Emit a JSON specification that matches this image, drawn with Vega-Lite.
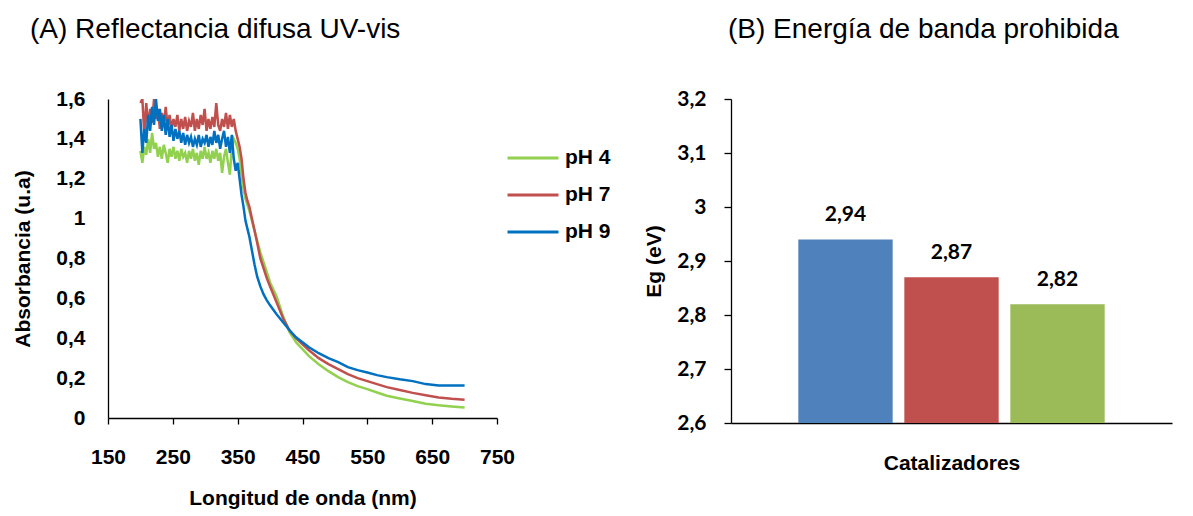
{
  "$schema": "https://vega.github.io/schema/vega-lite/v6.json",
  "padding": {"left": 12, "top": 16, "right": 5, "bottom": 5},
  "spacing": 32,
  "resolve": {"scale": {"color": "independent"}, "legend": {"color": "independent"}},
  "config": {
    "locale": {"number": {"decimal": ",", "thousands": ".", "grouping": [3], "currency": ["", " €"]}},
    "view": {"stroke": null},
    "font": "Liberation Sans",
    "axis": {"grid": false, "domainColor": "#000000", "tickColor": "#000000", "labelColor": "#000000", "titleColor": "#000000", "domainWidth": 1.3, "tickWidth": 1.3}
  },
  "hconcat": [
    {
      "width": 389,
      "height": 319,
      "title": {
        "text": "(A) Reflectancia difusa UV-vis",
        "anchor": "start",
        "frame": "group",
        "dx": -78,
        "font": "Liberation Sans",
        "fontSize": 28,
        "fontWeight": "normal",
        "color": "#000000",
        "offset": 44
      },
      "data": {
        "values": [
          {"nm": 200, "pH 4": 1.34, "pH 7": 1.58, "pH 9": 1.50},
          {"nm": 203, "pH 4": 1.28, "pH 7": 1.60, "pH 9": 1.33},
          {"nm": 206, "pH 4": 1.36, "pH 7": 1.42, "pH 9": 1.45},
          {"nm": 209, "pH 4": 1.32, "pH 7": 1.58, "pH 9": 1.38},
          {"nm": 212, "pH 4": 1.40, "pH 7": 1.46, "pH 9": 1.52},
          {"nm": 215, "pH 4": 1.33, "pH 7": 1.55, "pH 9": 1.44},
          {"nm": 218, "pH 4": 1.43, "pH 7": 1.48, "pH 9": 1.56},
          {"nm": 221, "pH 4": 1.35, "pH 7": 1.60, "pH 9": 1.47},
          {"nm": 224, "pH 4": 1.38, "pH 7": 1.50, "pH 9": 1.60},
          {"nm": 227, "pH 4": 1.31, "pH 7": 1.55, "pH 9": 1.49},
          {"nm": 230, "pH 4": 1.36, "pH 7": 1.45, "pH 9": 1.55},
          {"nm": 233, "pH 4": 1.30, "pH 7": 1.53, "pH 9": 1.44},
          {"nm": 236, "pH 4": 1.37, "pH 7": 1.47, "pH 9": 1.52},
          {"nm": 239, "pH 4": 1.33, "pH 7": 1.56, "pH 9": 1.42},
          {"nm": 242, "pH 4": 1.28, "pH 7": 1.46, "pH 9": 1.50},
          {"nm": 245, "pH 4": 1.35, "pH 7": 1.52, "pH 9": 1.41},
          {"nm": 248, "pH 4": 1.31, "pH 7": 1.45, "pH 9": 1.47},
          {"nm": 251, "pH 4": 1.36, "pH 7": 1.50, "pH 9": 1.39},
          {"nm": 254, "pH 4": 1.30, "pH 7": 1.46, "pH 9": 1.45},
          {"nm": 257, "pH 4": 1.34, "pH 7": 1.52, "pH 9": 1.40},
          {"nm": 260, "pH 4": 1.29, "pH 7": 1.44, "pH 9": 1.44},
          {"nm": 263, "pH 4": 1.35, "pH 7": 1.50, "pH 9": 1.38},
          {"nm": 266, "pH 4": 1.31, "pH 7": 1.45, "pH 9": 1.43},
          {"nm": 269, "pH 4": 1.33, "pH 7": 1.51, "pH 9": 1.37},
          {"nm": 272, "pH 4": 1.28, "pH 7": 1.44, "pH 9": 1.42},
          {"nm": 275, "pH 4": 1.34, "pH 7": 1.49, "pH 9": 1.38},
          {"nm": 278, "pH 4": 1.30, "pH 7": 1.46, "pH 9": 1.41},
          {"nm": 281, "pH 4": 1.35, "pH 7": 1.53, "pH 9": 1.36},
          {"nm": 284, "pH 4": 1.29, "pH 7": 1.44, "pH 9": 1.40},
          {"nm": 287, "pH 4": 1.33, "pH 7": 1.50, "pH 9": 1.37},
          {"nm": 290, "pH 4": 1.27, "pH 7": 1.45, "pH 9": 1.42},
          {"nm": 293, "pH 4": 1.34, "pH 7": 1.52, "pH 9": 1.36},
          {"nm": 296, "pH 4": 1.30, "pH 7": 1.47, "pH 9": 1.40},
          {"nm": 299, "pH 4": 1.36, "pH 7": 1.55, "pH 9": 1.38},
          {"nm": 302, "pH 4": 1.30, "pH 7": 1.44, "pH 9": 1.42},
          {"nm": 305, "pH 4": 1.33, "pH 7": 1.50, "pH 9": 1.36},
          {"nm": 308, "pH 4": 1.28, "pH 7": 1.45, "pH 9": 1.41},
          {"nm": 311, "pH 4": 1.34, "pH 7": 1.51, "pH 9": 1.37},
          {"nm": 314, "pH 4": 1.30, "pH 7": 1.46, "pH 9": 1.44},
          {"nm": 317, "pH 4": 1.35, "pH 7": 1.58, "pH 9": 1.38},
          {"nm": 320, "pH 4": 1.29, "pH 7": 1.47, "pH 9": 1.42},
          {"nm": 323, "pH 4": 1.33, "pH 7": 1.44, "pH 9": 1.35},
          {"nm": 326, "pH 4": 1.23, "pH 7": 1.50, "pH 9": 1.40},
          {"nm": 329, "pH 4": 1.31, "pH 7": 1.46, "pH 9": 1.44},
          {"nm": 332, "pH 4": 1.35, "pH 7": 1.53, "pH 9": 1.36},
          {"nm": 335, "pH 4": 1.28, "pH 7": 1.45, "pH 9": 1.41},
          {"nm": 338, "pH 4": 1.22, "pH 7": 1.52, "pH 9": 1.33},
          {"nm": 341, "pH 4": 1.36, "pH 7": 1.46, "pH 9": 1.42},
          {"nm": 344, "pH 4": 1.40, "pH 7": 1.50, "pH 9": 1.30},
          {"nm": 347, "pH 4": 1.38, "pH 7": 1.44, "pH 9": 1.24},
          {"nm": 350, "pH 4": 1.35, "pH 7": 1.40, "pH 9": 1.28},
          {"nm": 353, "pH 4": 1.30, "pH 7": 1.36, "pH 9": 1.20},
          {"nm": 356, "pH 4": 1.22, "pH 7": 1.30, "pH 9": 1.12},
          {"nm": 359, "pH 4": 1.15, "pH 7": 1.20, "pH 9": 1.06},
          {"nm": 362, "pH 4": 1.10, "pH 7": 1.13, "pH 9": 0.99},
          {"nm": 365, "pH 4": 1.07, "pH 7": 1.09, "pH 9": 0.95},
          {"nm": 368, "pH 4": 1.04, "pH 7": 1.06, "pH 9": 0.91},
          {"nm": 372, "pH 4": 0.99, "pH 7": 1.00, "pH 9": 0.84},
          {"nm": 376, "pH 4": 0.94, "pH 7": 0.94, "pH 9": 0.77},
          {"nm": 380, "pH 4": 0.89, "pH 7": 0.88, "pH 9": 0.71},
          {"nm": 385, "pH 4": 0.83, "pH 7": 0.80, "pH 9": 0.66},
          {"nm": 390, "pH 4": 0.78, "pH 7": 0.75, "pH 9": 0.62},
          {"nm": 395, "pH 4": 0.73, "pH 7": 0.70, "pH 9": 0.59},
          {"nm": 400, "pH 4": 0.68, "pH 7": 0.66, "pH 9": 0.565},
          {"nm": 410, "pH 4": 0.61, "pH 7": 0.58, "pH 9": 0.52},
          {"nm": 420, "pH 4": 0.51, "pH 7": 0.50, "pH 9": 0.48},
          {"nm": 430, "pH 4": 0.43, "pH 7": 0.44, "pH 9": 0.44},
          {"nm": 440, "pH 4": 0.38, "pH 7": 0.40, "pH 9": 0.405},
          {"nm": 450, "pH 4": 0.345, "pH 7": 0.37, "pH 9": 0.38},
          {"nm": 460, "pH 4": 0.31, "pH 7": 0.34, "pH 9": 0.355},
          {"nm": 475, "pH 4": 0.27, "pH 7": 0.30, "pH 9": 0.325},
          {"nm": 490, "pH 4": 0.235, "pH 7": 0.27, "pH 9": 0.30},
          {"nm": 505, "pH 4": 0.205, "pH 7": 0.245, "pH 9": 0.28},
          {"nm": 520, "pH 4": 0.18, "pH 7": 0.22, "pH 9": 0.255},
          {"nm": 535, "pH 4": 0.16, "pH 7": 0.20, "pH 9": 0.24},
          {"nm": 550, "pH 4": 0.145, "pH 7": 0.185, "pH 9": 0.228},
          {"nm": 565, "pH 4": 0.128, "pH 7": 0.17, "pH 9": 0.215},
          {"nm": 580, "pH 4": 0.112, "pH 7": 0.155, "pH 9": 0.205},
          {"nm": 600, "pH 4": 0.098, "pH 7": 0.14, "pH 9": 0.194},
          {"nm": 620, "pH 4": 0.085, "pH 7": 0.126, "pH 9": 0.185},
          {"nm": 640, "pH 4": 0.072, "pH 7": 0.114, "pH 9": 0.17},
          {"nm": 660, "pH 4": 0.064, "pH 7": 0.103, "pH 9": 0.163},
          {"nm": 680, "pH 4": 0.058, "pH 7": 0.096, "pH 9": 0.163},
          {"nm": 700, "pH 4": 0.053, "pH 7": 0.091, "pH 9": 0.163}
        ]
      },
      "transform": [{"fold": ["pH 4", "pH 7", "pH 9"], "as": ["serie", "abs"]}],
      "mark": {"type": "line", "strokeWidth": 2.5, "clip": true},
      "encoding": {
        "x": {
          "field": "nm",
          "type": "quantitative",
          "scale": {"domain": [150, 750], "nice": false},
          "axis": {
            "values": [150, 250, 350, 450, 550, 650, 750],
            "format": "d",
            "title": "Longitud de onda (nm)",
            "labelFont": "Liberation Sans",
            "labelFontSize": 21,
            "labelFontWeight": "bold",
            "titleFont": "Liberation Sans",
            "titleFontSize": 21,
            "titleFontWeight": "bold",
            "tickSize": 6,
            "labelPadding": 22,
            "titlePadding": 20,
            "labelFlush": false
          }
        },
        "y": {
          "field": "abs",
          "type": "quantitative",
          "scale": {"domain": [0, 1.6], "nice": false},
          "axis": {
            "values": [0, 0.2, 0.4, 0.6, 0.8, 1, 1.2, 1.4, 1.6],
            "format": ".1~f",
            "ticks": false,
            "labelPadding": 23,
            "title": "Absorbancia (u.a)",
            "labelFont": "Liberation Sans",
            "labelFontSize": 21,
            "labelFontWeight": "bold",
            "titleFont": "Liberation Sans",
            "titleFontSize": 21,
            "titleFontWeight": "bold",
            "titlePadding": 22
          }
        },
        "color": {
          "field": "serie",
          "type": "nominal",
          "scale": {"domain": ["pH 4", "pH 7", "pH 9"], "range": ["#92D050", "#C0504D", "#0070C0"]},
          "legend": {
            "title": null,
            "orient": "none",
            "legendX": 398,
            "legendY": 32,
            "symbolType": "stroke",
            "symbolSize": 2600,
            "symbolStrokeWidth": 3,
            "labelFont": "Liberation Sans",
            "labelFontSize": 21,
            "labelFontWeight": "bold",
            "labelColor": "#000000",
            "labelOffset": 5,
            "rowPadding": -8
          }
        }
      }
    },
    {
      "width": 441,
      "height": 324,
      "title": {
        "text": "(B) Energía de banda prohibida",
        "anchor": "start",
        "frame": "group",
        "dx": -3,
        "font": "Liberation Sans",
        "fontSize": 28,
        "fontWeight": "normal",
        "color": "#000000",
        "offset": 44
      },
      "data": {
        "values": [
          {"catalizador": "pH 4", "Eg": 2.94},
          {"catalizador": "pH 7", "Eg": 2.87},
          {"catalizador": "pH 9", "Eg": 2.82}
        ]
      },
      "encoding": {
        "x": {
          "field": "catalizador",
          "type": "nominal",
          "sort": null,
          "scale": {"paddingInner": 0.11, "paddingOuter": 0.635},
          "axis": {
            "labels": false,
            "ticks": false,
            "title": "Catalizadores",
            "titleFont": "Liberation Sans",
            "titleFontSize": 21,
            "titleFontWeight": "bold",
            "titlePadding": 29
          }
        },
        "y": {
          "field": "Eg",
          "type": "quantitative",
          "scale": {"domain": [2.6, 3.2], "nice": false, "zero": false},
          "axis": {
            "values": [2.6, 2.7, 2.8, 2.9, 3, 3.1, 3.2],
            "format": ".1~f",
            "tickSize": 7,
            "labelPadding": 18,
            "title": "Eg (eV)",
            "labelFont": "Lato",
            "labelFontSize": 21,
            "labelFontWeight": "bold",
            "titleFont": "Liberation Sans",
            "titleFontSize": 21,
            "titleFontWeight": "bold",
            "titlePadding": 12
          }
        }
      },
      "layer": [
        {
          "mark": {"type": "bar"},
          "encoding": {
            "y2": {"datum": 2.6},
            "color": {
              "field": "catalizador",
              "type": "nominal",
              "scale": {"domain": ["pH 4", "pH 7", "pH 9"], "range": ["#4F81BD", "#C0504D", "#9BBB59"]},
              "legend": null
            }
          }
        },
        {
          "mark": {"type": "text", "font": "Lato", "fontSize": 21, "fontWeight": "bold", "baseline": "alphabetic", "dy": -18, "color": "#000000"},
          "encoding": {
            "text": {"field": "Eg", "type": "quantitative", "format": ".2f"}
          }
        }
      ]
    }
  ]
}
